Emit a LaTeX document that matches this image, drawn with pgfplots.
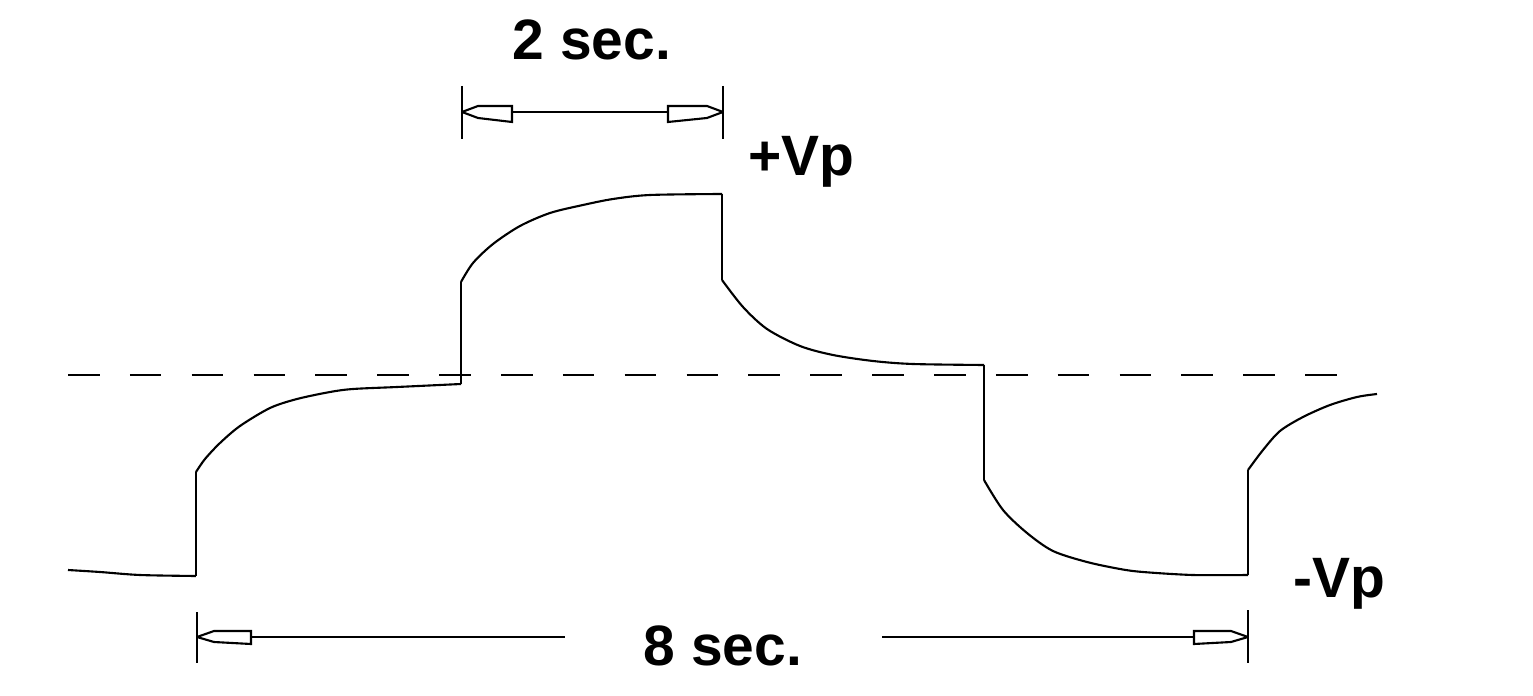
\documentclass[border=0pt]{standalone}
\usepackage{pgfplots}
\pgfplotsset{compat=1.18}
\usepackage{fontspec}
\setmainfont{Liberation Sans}

\begin{document}
\begin{tikzpicture}
\begin{axis}[
    scale only axis,
    width=15.33cm, height=6.96cm,
    xmin=0, xmax=1533, ymin=0, ymax=696,
    y dir=reverse,
    hide axis,
    clip=false,
    cycle list={{black, mark=none}},
    every axis plot/.append style={black, mark=none, line width=0.6pt, line join=miter},
    ]
    % frame for bounding box
    \addplot[draw=none] coordinates {(0,0) (1533,696)};

    % reference level
    \addplot[dash pattern=on 9pt off 8.6pt, line width=0.65pt] coordinates {(68,375) (1352,375)};

    % waveform: steps
    \addplot[black] coordinates {(196,576) (196,472)};
    \addplot[black] coordinates {(461,384) (461,282)};
    \addplot[black] coordinates {(722,194) (722,280)};
    \addplot[black] coordinates {(984,365) (984,480)};
    \addplot[black] coordinates {(1248,575) (1248,470)};

    % waveform: exponential segments
    \addplot[black, smooth, tension=0.5] coordinates {
        (68,570) (100,572) (140,575) (196,576)};
    \addplot[black, smooth, tension=0.5] coordinates {
        (196,472) (205,459) (220,443) (240,426) (270,408) (297,399)
        (330,392) (353,389) (397,387) (461,384)};
    \addplot[black, smooth, tension=0.5] coordinates {
        (461,282) (473,263) (493,244) (520,226) (550,213) (583,205)
        (613,199) (650,195) (722,194)};
    \addplot[black, smooth, tension=0.5] coordinates {
        (722,280) (743,307) (767,329) (800,346) (833,355) (873,361)
        (913,364) (984,365)};
    \addplot[black, smooth, tension=0.5] coordinates {
        (984,480) (1003,510) (1027,533) (1053,551) (1087,562) (1120,569)
        (1143,572) (1193,575) (1248,575)};
    \addplot[black, smooth, tension=0.5] coordinates {
        (1248,470) (1263,450) (1280,431) (1303,417) (1330,405)
        (1357,397) (1377,394)};

    % 2 sec. dimension
    \addplot[black] coordinates {(462,86) (462,139)};
    \addplot[black] coordinates {(723,86) (723,139)};
    \addplot[black] coordinates {(462,112) (723,112)};
    \addplot[fill=white] coordinates {(462,112) (478,106) (512,106) (512,122) (478,118) (462,112)};
    \addplot[fill=white] coordinates {(723,112) (707,106) (668,106) (668,122) (707,118) (723,112)};

    % 8 sec. dimension
    \addplot[black] coordinates {(197,612) (197,663)};
    \addplot[black] coordinates {(1248,610) (1248,663)};
    \addplot[black] coordinates {(197,637) (565,637)};
    \addplot[black] coordinates {(882,637) (1248,637)};
    \addplot[fill=white] coordinates {(197,637) (214,631) (251,631) (251,644) (214,642) (197,637)};
    \addplot[fill=white] coordinates {(1248,637) (1231,631) (1194,631) (1194,644) (1231,642) (1248,637)};

    \node[anchor=base, font=\fontsize{16.2}{18}\selectfont\bfseries, inner sep=0pt] at (axis cs:592,60) {2 sec.};
    \node[anchor=base, font=\fontsize{16.2}{18}\selectfont\bfseries, inner sep=0pt] at (axis cs:723,665) {8 sec.};
    \node[anchor=base west, font=\fontsize{16.2}{18}\selectfont\bfseries, inner sep=0pt] at (axis cs:748,176) {+Vp};
    \node[anchor=base west, font=\fontsize{16.2}{18}\selectfont\bfseries, inner sep=0pt] at (axis cs:1293,597) {-Vp};
\end{axis}
\end{tikzpicture}
\end{document}
